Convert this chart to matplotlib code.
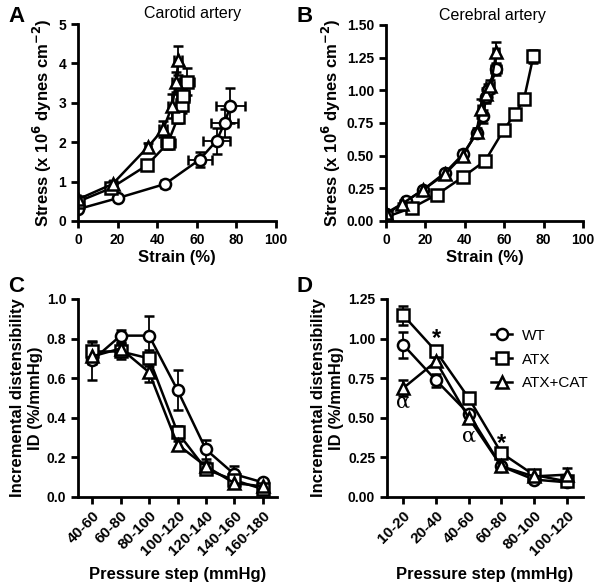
import matplotlib
matplotlib.use("Agg")
import matplotlib.pyplot as plt

plt.rcParams['font.family'] = ['Liberation Sans', 'DejaVu Sans']
plt.rcParams['font.weight'] = 'bold'
plt.rcParams['axes.labelweight'] = 'bold'
plt.rcParams['mathtext.default'] = 'bf'

# ---- Panel A: carotid artery, stress vs strain ----
a_wt_x = [0, 20, 44, 61.5, 70, 74, 77]
a_wt_y = [0.30, 0.58, 0.94, 1.56, 2.04, 2.48, 2.93]
a_wt_xerr = [1, 1.5, 2, 6, 7, 7, 7.5]
a_wt_yerr = [0.05, 0.05, 0.05, 0.2, 0.33, 0.35, 0.44]

a_atx_x = [0, 16.5, 34.7, 45.3, 50.5, 52.3, 53.2, 55]
a_atx_y = [0.49, 0.83, 1.41, 1.97, 2.63, 2.95, 3.18, 3.54]
a_atx_xerr = [1, 1.5, 2, 3.5, 2.5, 2.5, 3, 3.5]
a_atx_yerr = [0.05, 0.05, 0.08, 0.15, 0.15, 0.2, 0.25, 0.34]

a_cat_x = [0, 17.5, 35.5, 43, 47.6, 49.5, 50.7]
a_cat_y = [0.55, 0.94, 1.89, 2.33, 2.92, 3.52, 4.08]
a_cat_xerr = [1, 1.5, 1.5, 2, 2, 2, 2]
a_cat_yerr = [0.05, 0.08, 0.1, 0.2, 0.3, 0.25, 0.37]

# ---- Panel B: cerebral artery ----
b_wt_x = [0, 10, 19, 30, 39, 46, 49, 51, 52, 56]
b_wt_y = [0.05, 0.15, 0.24, 0.37, 0.51, 0.67, 0.80, 0.95, 1.00, 1.16]
b_wt_xerr = [1, 1, 1, 1, 1, 1.5, 2, 2, 2, 2.5]
b_wt_yerr = [0.01, 0.01, 0.02, 0.02, 0.03, 0.03, 0.05, 0.05, 0.05, 0.04]

b_atx_x = [0, 13, 25.7, 39.3, 50.3, 59.9, 65.5, 70, 74.8]
b_atx_y = [0.03, 0.10, 0.20, 0.34, 0.46, 0.70, 0.82, 0.93, 1.26]
b_atx_xerr = [1, 1, 1, 1, 1, 1, 1, 1.5, 2]
b_atx_yerr = [0.01, 0.01, 0.01, 0.01, 0.02, 0.02, 0.02, 0.03, 0.05]

b_cat_x = [0, 8, 19, 30, 39, 46, 48, 51, 53, 56]
b_cat_y = [0.06, 0.13, 0.24, 0.36, 0.50, 0.68, 0.86, 0.97, 1.03, 1.29]
b_cat_xerr = [1, 1, 1, 1, 1, 1.5, 1.5, 2, 2, 1.5]
b_cat_yerr = [0.01, 0.01, 0.02, 0.02, 0.03, 0.03, 0.07, 0.05, 0.05, 0.08]

# ---- Panel C: carotid incremental distensibility ----
c_steps = ['40-60', '60-80', '80-100', '100-120', '120-140', '140-160', '160-180']
c_wt = [0.69, 0.815, 0.815, 0.54, 0.24, 0.115, 0.074]
c_wt_err = [0.10, 0.03, 0.10, 0.10, 0.05, 0.04, 0.01]
c_atx = [0.735, 0.735, 0.70, 0.327, 0.14, 0.085, 0.04]
c_atx_err = [0.05, 0.04, 0.04, 0.03, 0.02, 0.01, 0.01]
c_cat = [0.71, 0.75, 0.63, 0.265, 0.155, 0.07, 0.054]
c_cat_err = [0.04, 0.03, 0.05, 0.02, 0.02, 0.01, 0.01]

# ---- Panel D: cerebral incremental distensibility ----
d_steps = ['10-20', '20-40', '40-60', '60-80', '80-100', '100-120']
d_wt = [0.96, 0.737, 0.526, 0.194, 0.11, 0.093]
d_wt_err = [0.08, 0.04, 0.02, 0.02, 0.01, 0.01]
d_atx = [1.147, 0.92, 0.625, 0.278, 0.139, 0.099]
d_atx_err = [0.06, 0.03, 0.03, 0.02, 0.01, 0.01]
d_cat = [0.688, 0.856, 0.50, 0.194, 0.13, 0.141]
d_cat_err = [0.05, 0.03, 0.02, 0.02, 0.01, 0.04]

marker_style = dict(color='black', lw=1.8, ms=8, mfc='white', mec='black',
                    mew=1.8, ecolor='black', elinewidth=1.3, capsize=3.5, capthick=1.3)

W, H = 601, 586
fig = plt.figure(figsize=(W / 100, H / 100), dpi=100)


def make_ax(left, top, right, bottom):
    ax = fig.add_axes([left / W, (H - bottom) / H, (right - left) / W, (bottom - top) / H])
    for s in ['top', 'right']:
        ax.spines[s].set_visible(False)
    for s in ['left', 'bottom']:
        ax.spines[s].set_linewidth(2)
    ax.tick_params(width=2, length=5, labelsize=10)
    return ax


def bold_ticks(ax):
    for lab in ax.get_xticklabels() + ax.get_yticklabels():
        lab.set_fontweight('bold')


def style_strain(ax):
    ax.set_xlim(0, 100)
    ax.set_xticks([0, 20, 40, 60, 80, 100])
    ax.set_xlabel('Strain (%)', fontsize=12, labelpad=2)
    ax.set_ylabel('Stress (x 10$^{6}$ dynes cm$^{-2}$)', fontsize=12, labelpad=3)


# Panel A
axA = make_ax(78, 24, 276, 221)
axA.errorbar(a_wt_x, a_wt_y, xerr=a_wt_xerr, yerr=a_wt_yerr, marker='o', **marker_style)
axA.errorbar(a_atx_x, a_atx_y, xerr=a_atx_xerr, yerr=a_atx_yerr, marker='s', **marker_style)
axA.errorbar(a_cat_x, a_cat_y, xerr=a_cat_xerr, yerr=a_cat_yerr, marker='^', **marker_style)
axA.set_ylim(0, 5)
axA.set_yticks([0, 1, 2, 3, 4, 5])
style_strain(axA)
axA.text(0.58, 1.055, 'Carotid artery', transform=axA.transAxes, ha='center', va='center',
         fontsize=11.5, fontweight='normal')

# Panel B
axB = make_ax(386, 25, 583, 221)
axB.errorbar(b_wt_x, b_wt_y, xerr=b_wt_xerr, yerr=b_wt_yerr, marker='o', **marker_style)
axB.errorbar(b_atx_x, b_atx_y, xerr=b_atx_xerr, yerr=b_atx_yerr, marker='s', **marker_style)
axB.errorbar(b_cat_x, b_cat_y, xerr=b_cat_xerr, yerr=b_cat_yerr, marker='^', **marker_style)
axB.set_ylim(0, 1.5)
axB.set_yticks([0, 0.25, 0.5, 0.75, 1.0, 1.25, 1.5])
axB.set_yticklabels(['0.00', '0.25', '0.50', '0.75', '1.00', '1.25', '1.50'])
style_strain(axB)
axB.text(0.54, 1.05, 'Cerebral artery', transform=axB.transAxes, ha='center', va='center',
         fontsize=11.5, fontweight='normal')


def style_id(ax, steps):
    ax.set_xlim(-0.5, len(steps) - 0.5)
    ax.set_xticks(range(len(steps)))
    ax.set_xticklabels(steps, rotation=45, ha='right', rotation_mode='anchor', fontsize=11)
    ax.set_xlabel('Pressure step (mmHg)', fontsize=12, labelpad=6)
    ax.set_ylabel('Incremental distensibility\nID (%/mmHg)', fontsize=12, labelpad=3)


# Panel C
axC = make_ax(78, 299, 277, 497)
xc = range(len(c_steps))
axC.errorbar(xc, c_wt, yerr=c_wt_err, marker='o', **marker_style)
axC.errorbar(xc, c_atx, yerr=c_atx_err, marker='s', **marker_style)
axC.errorbar(xc, c_cat, yerr=c_cat_err, marker='^', **marker_style)
axC.set_ylim(0, 1.0)
axC.set_yticks([0, 0.2, 0.4, 0.6, 0.8, 1.0])
axC.set_yticklabels(['0.0', '0.2', '0.4', '0.6', '0.8', '1.0'])
style_id(axC, c_steps)

# Panel D
axD = make_ax(387, 299, 583, 497)
xd = range(len(d_steps))
axD.errorbar(xd, d_wt, yerr=d_wt_err, marker='o', label='WT', **marker_style)
axD.errorbar(xd, d_atx, yerr=d_atx_err, marker='s', label='ATX', **marker_style)
axD.errorbar(xd, d_cat, yerr=d_cat_err, marker='^', label='ATX+CAT', **marker_style)
axD.set_ylim(0, 1.25)
axD.set_yticks([0, 0.25, 0.5, 0.75, 1.0, 1.25])
axD.set_yticklabels(['0.00', '0.25', '0.50', '0.75', '1.00', '1.25'])
style_id(axD, d_steps)
axD.text(1, 1.0, '*', ha='center', va='center', fontsize=17)
axD.text(3, 0.34, '*', ha='center', va='center', fontsize=17)
axD.text(0, 0.6, 'α', ha='center', va='center', fontsize=15, fontweight='normal',
         family=['DejaVu Serif'])
axD.text(2, 0.385, 'α', ha='center', va='center', fontsize=15, fontweight='normal',
         family=['DejaVu Serif'])
handles, labels = axD.get_legend_handles_labels()
handles = [h[0] for h in handles]
axD.legend(handles, labels, loc='upper left', bbox_to_anchor=(0.46, 0.92), frameon=False,
           handlelength=1.4, handletextpad=0.65, labelspacing=0.65,
           prop=dict(weight='normal', size=11))

for ax in [axA, axB, axC, axD]:
    bold_ticks(ax)

# panel letters
for txt, x, y in [('A', 8, 6), ('B', 296, 6), ('C', 8, 276), ('D', 296, 276)]:
    fig.text(x / W, 1 - y / H, txt, fontsize=16, fontweight='bold', va='top', ha='left')

fig.savefig('out.png', dpi=100)
